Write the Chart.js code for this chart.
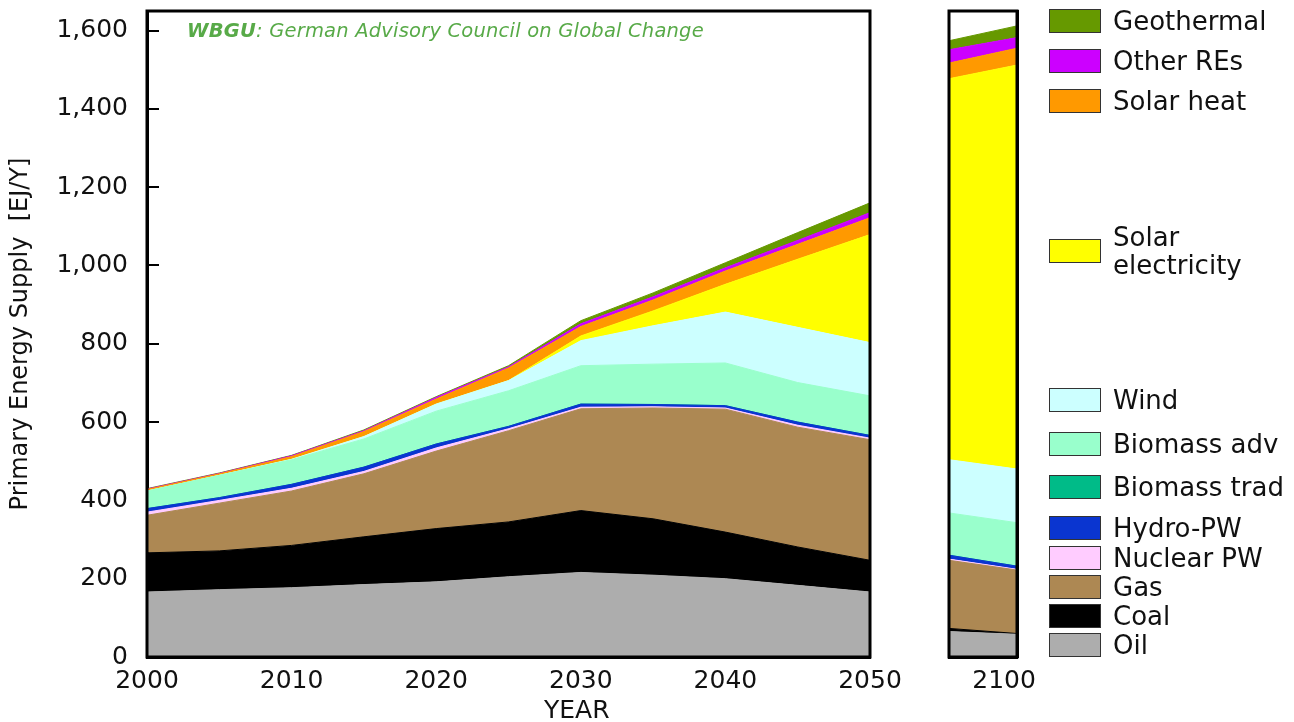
<!DOCTYPE html>
<html>
<head>
<meta charset="utf-8">
<script src="https://cdn.jsdelivr.net/npm/chart.js@4.4.1/dist/chart.umd.min.js"></script>
<style>
  body { margin: 0; background: #fff; font-family: "DejaVu Sans", sans-serif; }
  #wrap { position: relative; width: 1294px; height: 722px; overflow: hidden; }
  #main { position: absolute; left: 0; top: 0; }
  #side { position: absolute; left: 920px; top: 0; }
  .key { position: absolute; left: 1049px; width: 50px; height: 22px; border: 1px solid #333; }
  .lbl { position: absolute; left: 1113px; font-size: 26px; line-height: 28px; color: #111; white-space: nowrap; }
  #note { position: absolute; left: 187px; top: 19px; font-size: 19.5px; font-style: italic; color: #58aa48; white-space: nowrap; letter-spacing: 0.2px; }
  #xname { position: absolute; left: 544px; top: 695px; font-size: 25px; line-height: 30px; color: #111; }
</style>
</head>
<body>
<div id="wrap">
  <canvas id="main" width="910" height="722"></canvas>
  <canvas id="side" width="130" height="722"></canvas>
  <div id="note"><b>WBGU</b>: German Advisory Council on Global Change</div>
  <div id="xname">YEAR</div>
</div>
<script>
// scenario years, main panel
const years = [2000, 2005, 2010, 2015, 2020, 2025, 2030, 2035, 2040, 2045, 2050];
// EJ/y per source, bottom to top
const oil = [166, 172, 177, 185, 192, 205, 216, 209, 200, 183, 166];
const coal = [100, 99, 108, 122, 136, 140, 158, 144, 119, 98, 81];
const gas = [96, 122, 139, 161, 198, 233, 260, 283, 314, 306, 308];
const nuclear = [8, 7, 7, 6, 8, 5, 4, 3, 3, 5, 4];
const hydro = [9, 7, 10, 11, 10, 6, 8, 6, 6, 8, 7];
const biomassTrad = [0, 0, 0, 0, 0, 0, 0, 0, 0, 0, 0];
const biomassAdv = [45, 57, 63, 72, 84, 91, 98, 103, 109, 101, 101];
const wind = [0, 0, 1, 6, 18, 26, 64, 98, 130, 141, 136];
const solarElec = [0, 0, 0, 0, 0, 0, 12, 38, 71, 174, 276];
const solarHeat = [4, 4, 7, 13, 13, 32, 24, 28, 34, 38, 43];
const otherRes = [1, 1, 2, 2, 4, 3, 7, 8, 8, 10, 13];
const geothermal = [1, 1, 1, 2, 2, 3, 8, 10, 13, 20, 25];

// 2100 panel: value at left and right edge
const panelYears = [2083, 2104];
const oil2100 = [65, 58];
const coal2100 = [8, 2];
const gas2100 = [174, 162];
const nuclear2100 = [3, 2];
const hydro2100 = [10, 8];
const biomassTrad2100 = [0, 0];
const biomassAdv2100 = [108, 111];
const wind2100 = [136, 137];
const solarElec2100 = [973, 1032];
const solarHeat2100 = [40, 43];
const otherRes2100 = [34, 27];
const geothermal2100 = [23, 30];

const series = [
  { label: "Oil", color: "#adadad", main: oil, end: oil2100 },
  { label: "Coal", color: "#000000", main: coal, end: coal2100 },
  { label: "Gas", color: "#ad8853", main: gas, end: gas2100 },
  { label: "Nuclear PW", color: "#ffccff", main: nuclear, end: nuclear2100 },
  { label: "Hydro-PW", color: "#0a35d0", main: hydro, end: hydro2100 },
  { label: "Biomass trad", color: "#00bb88", main: biomassTrad, end: biomassTrad2100 },
  { label: "Biomass adv", color: "#99ffcc", main: biomassAdv, end: biomassAdv2100 },
  { label: "Wind", color: "#ccffff", main: wind, end: wind2100 },
  { label: "Solar electricity", color: "#ffff00", main: solarElec, end: solarElec2100 },
  { label: "Solar heat", color: "#ff9900", main: solarHeat, end: solarHeat2100 },
  { label: "Other REs", color: "#cc00ff", main: otherRes, end: otherRes2100 },
  { label: "Geothermal", color: "#669900", main: geothermal, end: geothermal2100 },
];

// legend rows (centre y), same order as series
const legendY = [645, 616, 587, 558, 528, 487, 444, 400, 251, 101, 61, 21];

const font = { family: "DejaVu Sans", size: 25 };

const frame = {
  id: "frame",
  afterDraw(chart) {
    const { ctx, chartArea: a } = chart;
    ctx.save();
    ctx.strokeStyle = "#000";
    ctx.lineWidth = 3;
    ctx.strokeRect(a.left, a.top, a.right - a.left, a.bottom - a.top);
    ctx.restore();
  },
};

// fixed axis boxes, no extra padding for label overflow
const fixX = (s) => { s.height = 65; s.paddingLeft = 0; s.paddingRight = 0; };
const fixY = (w) => (s) => { s.width = w; s.paddingTop = 0; s.paddingBottom = 0; };

const makeSets = (xs, key) =>
  series.map((s, i) => ({
    label: s.label,
    data: xs.map((x, j) => ({ x: x, y: s[key][j] })),
    backgroundColor: s.color,
    borderColor: s.color,
    borderWidth: 1,
    pointRadius: 0,
    tension: 0,
    fill: i === 0 ? "origin" : "-1",
  }));

new Chart(document.getElementById("main"), {
  type: "line",
  data: { datasets: makeSets(years, "main") },
  options: {
    responsive: false,
    animation: false,
    layout: { padding: { left: 0, right: 40, top: 11, bottom: 0 } },
    plugins: { legend: { display: false }, tooltip: { enabled: false } },
    scales: {
      x: {
        type: "linear",
        min: 2000,
        max: 2050,
        ticks: { stepSize: 10, padding: 23, color: "#111", font: font, callback: (v) => String(v) },
        grid: { drawOnChartArea: false, tickLength: -14, lineWidth: 2, color: "#000" },
        border: { width: 3, color: "#000" },
        afterFit: fixX,
      },
      y: {
        stacked: true,
        min: 0,
        max: 1650,
        ticks: { stepSize: 200, includeBounds: false, padding: 31, color: "#111", font: font },
        afterBuildTicks: (s) => { s.ticks = s.ticks.filter((t) => t.value <= 1600); },
        grid: { drawOnChartArea: false, tickLength: -12, lineWidth: 2, color: "#000" },
        border: { width: 3, color: "#000" },
        title: {
          display: true,
          text: "Primary Energy Supply  [EJ/Y]",
          color: "#111",
          font: { family: "DejaVu Sans", size: 24 },
          padding: { top: 6, bottom: 0 },
        },
        afterFit: fixY(147),
      },
    },
  },
  plugins: [frame],
});

new Chart(document.getElementById("side"), {
  type: "line",
  data: { datasets: makeSets(panelYears, "end") },
  options: {
    responsive: false,
    animation: false,
    layout: { padding: { left: 29, right: 33, top: 11, bottom: 0 } },
    plugins: { legend: { display: false }, tooltip: { enabled: false } },
    scales: {
      x: {
        type: "linear",
        min: panelYears[0],
        max: panelYears[1],
        afterBuildTicks: (s) => { s.ticks = [{ value: 2100 }]; },
        ticks: { padding: 9, color: "#111", font: font, callback: (v) => String(v) },
        grid: { display: false, drawTicks: false },
        border: { width: 3, color: "#000" },
        afterFit: fixX,
      },
      y: {
        stacked: true,
        position: "right",
        min: 0,
        max: 1650,
        ticks: { display: false, stepSize: 200, includeBounds: false },
        afterBuildTicks: (s) => { s.ticks = s.ticks.filter((t) => t.value <= 1600); },
        grid: { drawOnChartArea: false, tickLength: -12, lineWidth: 2, color: "#000" },
        border: { width: 3, color: "#000" },
        afterFit: fixY(0),
      },
    },
  },
  plugins: [frame],
});

// legend boxes on the right
const wrap = document.getElementById("wrap");
series.forEach((s, i) => {
  const y = legendY[i];
  const key = document.createElement("div");
  key.className = "key";
  key.style.top = (y - 12) + "px";
  key.style.background = s.color;
  wrap.appendChild(key);

  const lbl = document.createElement("div");
  lbl.className = "lbl";
  const words = s.label === "Solar electricity" ? ["Solar", "electricity"] : [s.label];
  lbl.innerHTML = words.join("<br>");
  lbl.style.top = (y - words.length * 14) + "px";
  wrap.appendChild(lbl);
});
</script>
</body>
</html>
